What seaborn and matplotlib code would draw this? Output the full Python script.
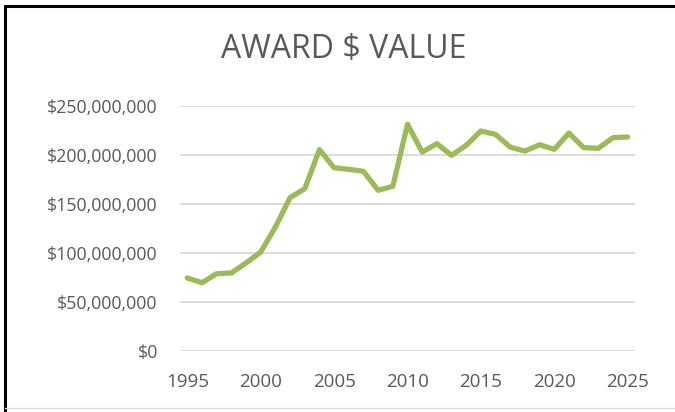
import numpy as np
import pandas as pd
import matplotlib
matplotlib.use("Agg")
import matplotlib.pyplot as plt
import seaborn as sns
from matplotlib.ticker import FuncFormatter
from matplotlib.lines import Line2D

years = list(range(1995, 2026))
award_value = [74.5, 69.7, 78.9, 79.6, 89.8, 101.0, 126.5, 156.5, 165.6, 205.4,
               187.0, 185.4, 183.3, 164.0, 168.0, 231.3, 203.0, 211.6, 199.7, 209.9,
               224.5, 221.0, 208.0, 204.0, 210.5, 205.8, 222.4, 207.5, 206.8, 217.7,
               218.4]
award_value = [v * 1e6 for v in award_value]
df = pd.DataFrame({"year": years, "value": award_value})

sns.set_theme(style="white")
plt.rcParams['font.family'] = ['Open Sans', 'DejaVu Sans']

fig = plt.figure(figsize=(6.75, 4.12), dpi=100)
ax = fig.add_axes([180/675, 61/412, 455/675, 245/412])

sns.lineplot(data=df, x="year", y="value", ax=ax, color="#9BBB59", linewidth=3.8,
             solid_capstyle="round", solid_joinstyle="round")

ax.set_xlim(1994.5, 2025.5)
ax.set_ylim(0, 250e6)
ax.set_yticks(np.arange(0, 250e6 + 1, 50e6))
ax.set_xticks(range(1995, 2026, 5))
ax.yaxis.set_major_formatter(FuncFormatter(lambda v, p: "${:,.0f}".format(v)))
ax.grid(axis="y", color="#D9D9D9", linewidth=1.3)
ax.set_axisbelow(True)
for s in ax.spines.values():
    s.set_visible(False)
ax.tick_params(axis="y", length=0, pad=16, labelsize=12.8, labelcolor="#595959")
ax.tick_params(axis="x", length=0, pad=16, labelsize=13.5, labelcolor="#595959")
ax.set_xlabel("")
ax.set_ylabel("")

fig.text(344/675, 1 - 50/412, "AWARD $ VALUE", ha="center", va="center",
         fontsize=23, color="#595959")

# chart border (left and top visible in the crop)
fig.add_artist(Line2D([5/675, 5/675], [0, 1 - 6/412], color="black", linewidth=2.2,
                      transform=fig.transFigure))
fig.add_artist(Line2D([5/675, 1], [1 - 6/412, 1 - 6/412], color="black", linewidth=2.2,
                      transform=fig.transFigure))
fig.add_artist(Line2D([5/675, 1], [4/412, 4/412], color="#E0E0E0", linewidth=1,
                      transform=fig.transFigure))

fig.savefig("out.png", dpi=100)
